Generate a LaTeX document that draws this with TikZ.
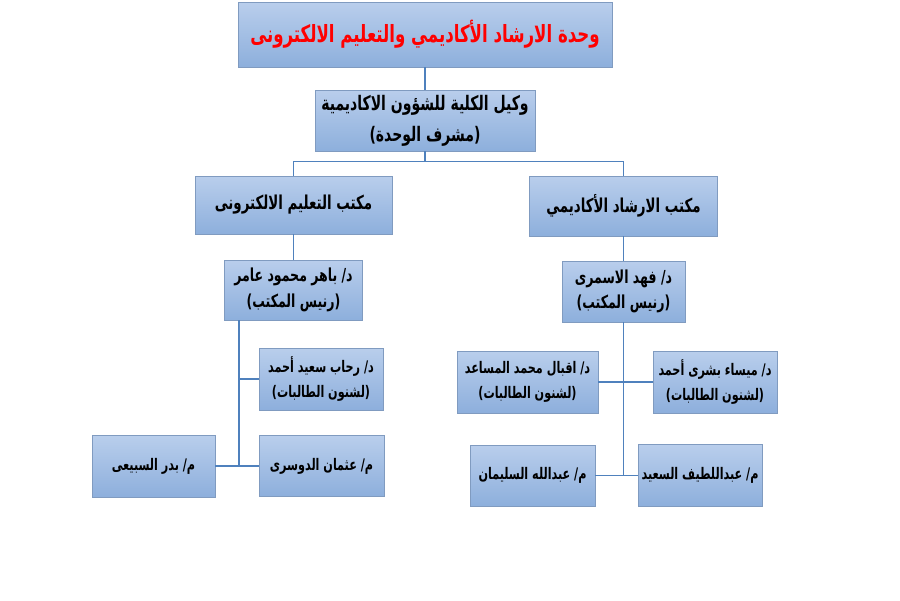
\documentclass[tikz,border=0pt]{standalone}
\usepackage{fontspec}
\newfontfamily\arabicfont[Script=Arabic,FakeStretch=0.7]{DejaVu Sans}
\TeXXeTstate=1
\usepackage{tikz}
\usetikzlibrary{calc,positioning}
\definecolor{boxtop}{RGB}{185,206,236}
\definecolor{boxbot}{RGB}{141,175,220}
\definecolor{boxline}{RGB}{128,155,192}
\definecolor{linkblue}{RGB}{79,129,189}
\tikzstyle{staffbox} = [rectangle, draw=boxline, top color=boxtop, bottom color=boxbot, align=center, text centered, font=\arabicfont\bfseries\fontsize{9.1}{14.5}\selectfont, inner sep=1pt]
\tikzstyle{officebox} = [staffbox, font=\arabicfont\bfseries\fontsize{10.9}{17}\selectfont]
\tikzstyle{vicebox} = [staffbox, font=\arabicfont\bfseries\fontsize{11.4}{17.5}\selectfont]
\tikzstyle{headbox} = [staffbox, font=\arabicfont\bfseries\fontsize{10.2}{14.5}\selectfont]
\tikzstyle{unitbox} = [staffbox, text=red, font=\arabicfont\bfseries\fontsize{13.5}{18}\selectfont]
\tikzstyle{link} = [draw=linkblue, thick]

\begin{document}
\begin{tikzpicture}[x=0.02cm,y=0.02cm]
		\useasboundingbox (0,0) rectangle (900,600);
		\node[unitbox,minimum width=7.48cm,minimum height=1.3cm](unit) at (425,565.5){\beginR وحدة الارشاد الأكاديمي والتعليم الالكترونى\endR};
		\node[vicebox,minimum width=4.4cm,minimum height=1.22cm](vice) at (425,479.5){\beginR وكيل الكلية للشؤون الاكاديمية\endR\\\beginR (مشرف الوحدة)\endR};
		\node[officebox,minimum width=3.94cm,minimum height=1.16cm](eoffice) at (293.5,395){\beginR مكتب التعليم الالكترونى\endR};
		\node[officebox,minimum width=3.76cm,minimum height=1.2cm](aoffice) at (623.5,394){\beginR مكتب الارشاد الأكاديمي\endR};
		\node[headbox,minimum width=2.76cm,minimum height=1.2cm](ehead) at (293.5,310){\beginR د/ باهر محمود عامر\endR\\\beginR (رنيس المكتب)\endR};
		\node[headbox,minimum width=2.46cm,minimum height=1.22cm](ahead) at (623.5,308.5){\beginR د/ فهد الاسمرى\endR\\\beginR (رنيس المكتب)\endR};
		\node[staffbox,minimum width=2.48cm,minimum height=1.24cm](rahab) at (321,221){\beginR د/ رحاب سعيد أحمد\endR\\\beginR (لشنون الطالبات)\endR};
		\node[staffbox,minimum width=2.5cm,minimum height=1.22cm](uthman) at (321.5,134){\beginR م/ عثمان الدوسرى\endR};
		\node[staffbox,minimum width=2.46cm,minimum height=1.24cm](badr) at (153.5,134){\beginR م/ بدر السبيعى\endR};
		\node[staffbox,minimum width=2.82cm,minimum height=1.24cm](iqbal) at (527.5,218){\beginR د/ اقبال محمد المساعد\endR\\\beginR (لشنون الطالبات)\endR};
		\node[staffbox,minimum width=2.48cm,minimum height=1.24cm](maysa) at (715,218){\beginR د/ ميساء بشرى أحمد\endR\\\beginR (لشنون الطالبات)\endR};
		\node[staffbox,minimum width=2.5cm,minimum height=1.22cm](abdullah) at (532.5,124.5){\beginR م/ عبدالله السليمان\endR};
		\node[staffbox,minimum width=2.48cm,minimum height=1.24cm](abdullatif) at (700,124.5){\beginR م/ عبداللطيف السعيد\endR};
		% top of the chart
		\draw[link] (unit.south) -- (vice.north);
		\draw[link] (vice.south) -- ++(0,-10) coordinate (fork);
		\draw[link] (fork) -| (eoffice.north);
		\draw[link] (fork) -| (aoffice.north);
		\draw[link] (eoffice.south) -- (ehead.north);
		\draw[link] (aoffice.south) -- (ahead.north);
		% left branch
		\coordinate (etrunk) at ([xshift=0.3cm]ehead.south west);
		\draw[link] (etrunk) |- (rahab.west);
		\draw[link] (etrunk) |- (uthman.west);
		\draw[link] (badr.east) -- (uthman.west);
		% right branch
		\draw[link] (ahead.south) |- (abdullatif.west);
		\draw[link] (iqbal.east) -- (maysa.west);
		\draw[link] (abdullah.east) -- (abdullatif.west);
\end{tikzpicture}
\end{document}
